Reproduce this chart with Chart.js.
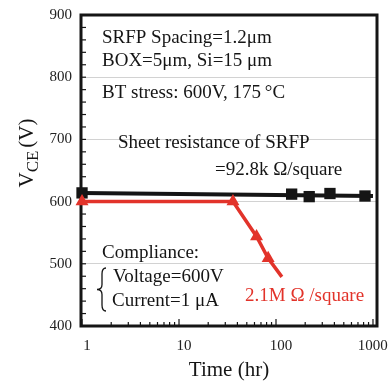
<!DOCTYPE html>
<html><head><meta charset="utf-8">
<script src="https://cdn.jsdelivr.net/npm/chart.js"></script>
<style>html,body{margin:0;padding:0;background:#fff}#wrap{width:391px;height:383px;position:relative}</style>
</head><body><div id="wrap"><canvas id="c" width="391" height="383"></canvas></div>
<script>
const xTicks = [1, 10, 100, 1000];
const yTicks = [400, 500, 600, 700, 800, 900];
const srfpTime = [1, 145, 220, 360, 827];
const srfpVce = [614, 612, 608, 613, 609];
const fitTime = [1, 1000];
const fitVce = [614, 609];
const hiResTime = [1, 36, 63, 83, 115];
const hiResVce = [600, 600, 544, 509, 479];
const hiResMarker = [true, true, true, true, false];

const SERIF = '"Liberation Serif", "DejaVu Serif", serif';
const RED = '#e2332a';
const INK = '#151515';

const notes = [
  {t: 'SRFP Spacing=1.2\u03bcm', x: 102, y: 43, c: INK},
  {t: 'BOX=5\u03bcm, Si=15 \u03bcm', x: 102, y: 66, c: INK},
  {t: 'BT stress: 600V, 175\u2009\u00b0C', x: 102, y: 98, c: INK},
  {t: 'Sheet resistance of SRFP', x: 118, y: 148, c: INK},
  {t: '=92.8k \u03a9/square', x: 215, y: 175, c: INK},
  {t: 'Compliance:', x: 102, y: 258, c: INK},
  {t: 'Voltage=600V', x: 113, y: 282, c: INK},
  {t: 'Current=1 \u03bcA', x: 112, y: 306, c: INK},
  {t: '2.1M \u03a9 /square', x: 245, y: 301, c: RED}
];

const decor = {
  id: 'decor',
  beforeDatasetsDraw(chart) {
    const {ctx, chartArea: a, scales: {x, y}} = chart;
    ctx.save();
    ctx.strokeStyle = INK;
    ctx.lineWidth = 1.2;
    for (let v = 400; v <= 900; v += 20) {
      const py = y.getPixelForValue(v);
      ctx.beginPath(); ctx.moveTo(a.left, py); ctx.lineTo(a.left + 5, py); ctx.stroke();
    }
    for (let d = 1; d <= 1000; d *= 10) {
      for (let k = 1; k <= 9; k++) {
        const v = d * k;
        if (v > 1100) break;
        const px = x.getPixelForValue(v);
        const len = k === 1 ? 7 : 4;
        ctx.beginPath(); ctx.moveTo(px, a.bottom); ctx.lineTo(px, a.bottom - len); ctx.stroke();
      }
    }
    ctx.lineWidth = 3;
    ctx.strokeRect(a.left, a.top, a.right - a.left, a.bottom - a.top);
    ctx.restore();
  },
  afterDraw(chart) {
    const {ctx} = chart;
    ctx.save();
    ctx.font = '19px ' + SERIF;
    ctx.textBaseline = 'alphabetic';
    ctx.textAlign = 'left';
    notes.forEach(n => { ctx.fillStyle = n.c; ctx.fillText(n.t, n.x, n.y); });
    ctx.strokeStyle = INK; ctx.lineWidth = 1.3;
    const bx = 104, top = 268, bot = 311, mid = (top + bot) / 2;
    ctx.beginPath();
    ctx.moveTo(bx + 2, top);
    ctx.quadraticCurveTo(bx - 2, top, bx - 2, top + 6);
    ctx.lineTo(bx - 2, mid - 5);
    ctx.quadraticCurveTo(bx - 2, mid, bx - 7, mid);
    ctx.quadraticCurveTo(bx - 2, mid, bx - 2, mid + 5);
    ctx.lineTo(bx - 2, bot - 6);
    ctx.quadraticCurveTo(bx - 2, bot, bx + 2, bot);
    ctx.stroke();
    ctx.translate(33, 153);
    ctx.rotate(-Math.PI / 2);
    ctx.fillStyle = INK;
    const f1 = '21px ' + SERIF, f2 = '17px ' + SERIF;
    ctx.font = f1; const w1 = ctx.measureText('V').width;
    ctx.font = f2; const w2 = ctx.measureText('CE').width;
    ctx.font = f1; const w3 = ctx.measureText('(V)').width;
    const gap = 3;
    let sx = -(w1 + w2 + gap + w3) / 2;
    ctx.font = f1; ctx.fillText('V', sx, 0); sx += w1;
    ctx.font = f2; ctx.fillText('CE', sx, 5); sx += w2 + gap;
    ctx.font = f1; ctx.fillText('(V)', sx, 0);
    ctx.restore();
  }
};

new Chart(document.getElementById('c'), {
  type: 'line',
  data: {
    datasets: [
      {
        label: 'fit', data: fitTime.map((t, i) => ({x: t, y: fitVce[i]})),
        borderColor: INK, borderWidth: 4, pointRadius: 0, clip: false, order: 3
      },
      {
        label: 'SRFP', data: srfpTime.map((t, i) => ({x: t, y: srfpVce[i]})),
        showLine: false, pointStyle: 'rect', pointRadius: 8, pointBackgroundColor: INK,
        pointBorderColor: INK, pointBorderWidth: 0, clip: false, order: 2
      },
      {
        label: '2.1M', data: hiResTime.map((t, i) => ({x: t, y: hiResVce[i]})),
        borderColor: RED, borderWidth: 3.5, pointStyle: 'triangle',
        pointRadius: hiResMarker.map(m => m ? 7.5 : 0), pointBackgroundColor: RED,
        pointBorderColor: RED, pointBorderWidth: 0, clip: false, order: 1
      }
    ]
  },
  options: {
    responsive: false, animation: false, devicePixelRatio: 1,
    layout: {padding: {top: 15, right: 14, left: 0, bottom: 0}},
    plugins: {legend: {display: false}, tooltip: {enabled: false}},
    scales: {
      x: {
        type: 'logarithmic', min: 0.976, max: 1100,
        afterBuildTicks: s => { s.ticks = xTicks.map(v => ({value: v})); },
        afterFit: s => { s.height = 57; s.paddingLeft = 0; s.paddingRight = 0; },
        grid: {display: false, drawTicks: false},
        border: {display: false},
        ticks: {
          autoSkip: false, maxRotation: 0, labelOffset: 5, padding: 11,
          color: '#222', font: {family: SERIF, size: 15},
          callback: v => v === 1000 ? '1000\u2002\u2009' : String(v)
        },
        title: {display: true, text: 'Time (hr)', color: INK, font: {family: SERIF, size: 21, lineHeight: 1.2}, padding: {top: 0, bottom: 0}}
      },
      y: {
        min: 400, max: 900,
        afterBuildTicks: s => { s.ticks = yTicks.map(v => ({value: v})); },
        afterFit: s => { s.width = 81; s.paddingTop = 0; s.paddingBottom = 0; },
        grid: {
          drawTicks: false, lineWidth: 1,
          color: c => (c.tick && c.tick.value > 400 && c.tick.value < 900) ? '#d2d2d2' : 'rgba(0,0,0,0)'
        },
        border: {display: false},
        ticks: {padding: 9, color: '#222', font: {family: SERIF, size: 15}}
      }
    }
  },
  plugins: [decor]
});
</script>
</body></html>
